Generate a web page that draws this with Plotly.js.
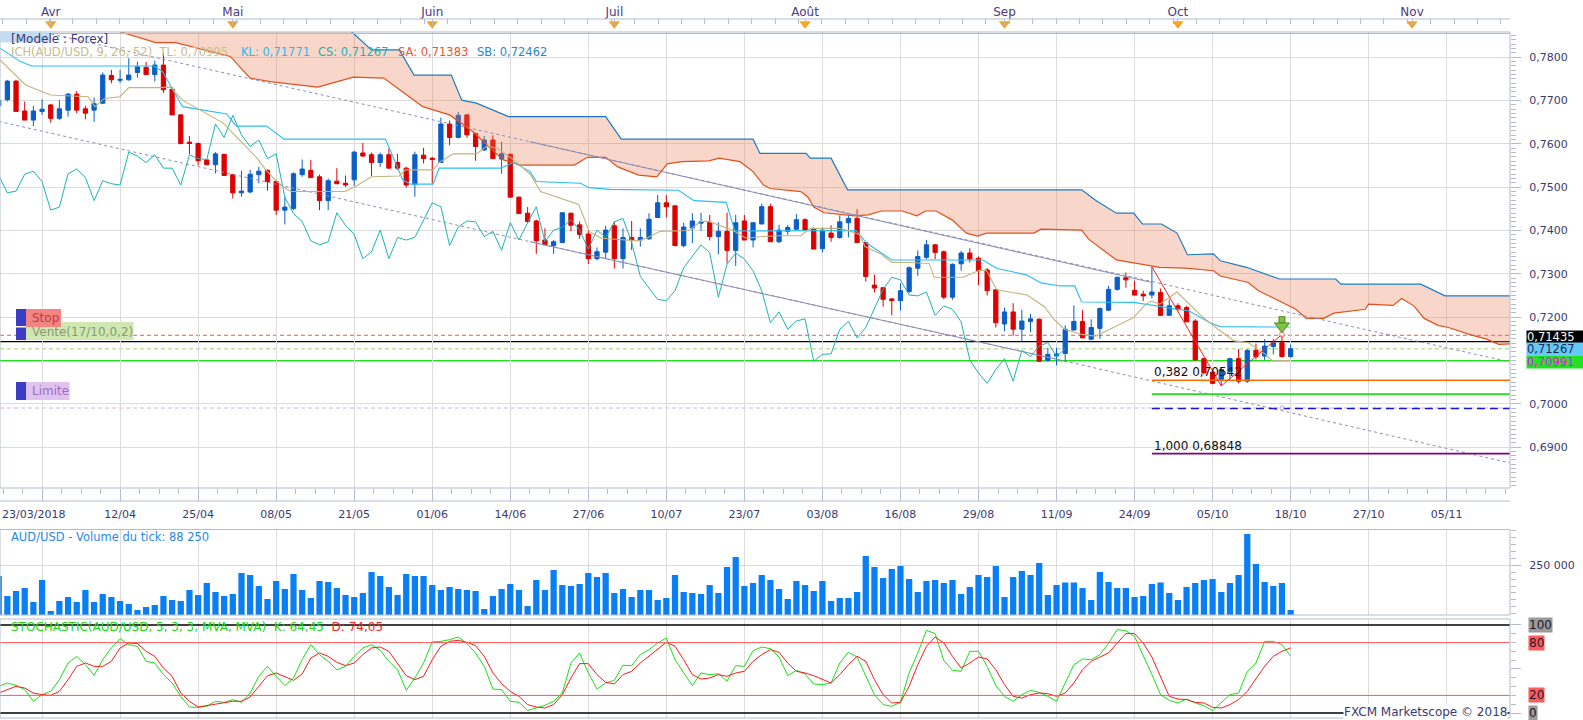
<!DOCTYPE html>
<html><head><meta charset="utf-8">
<script src="https://cdn.plot.ly/plotly-3.0.1.min.js"></script>
<style>html,body{margin:0;padding:0;background:#fff;overflow:hidden}#chart{width:1583px;height:720px}</style>
</head><body><div id="chart"></div>
<script>
// ---------------- DATA ----------------
const dates = ['23/03','26/03','27/03','28/03','29/03','30/03',
'02/04','03/04','04/04','05/04','06/04','09/04','10/04','11/04','12/04','13/04','16/04','17/04','18/04','19/04','20/04','23/04','24/04','25/04','26/04','27/04','30/04',
'01/05','02/05','03/05','04/05','07/05','08/05','09/05','10/05','11/05','14/05','15/05','16/05','17/05','18/05','21/05','22/05','23/05','24/05','25/05','28/05','29/05','30/05','31/05',
'01/06','04/06','05/06','06/06','07/06','08/06','11/06','12/06','13/06','14/06','15/06','18/06','19/06','20/06','21/06','22/06','25/06','26/06','27/06','28/06','29/06',
'02/07','03/07','04/07','05/07','06/07','09/07','10/07','11/07','12/07','13/07','16/07','17/07','18/07','19/07','20/07','23/07','24/07','25/07','26/07','27/07','30/07','31/07',
'01/08','02/08','03/08','06/08','07/08','08/08','09/08','10/08','13/08','14/08','15/08','16/08','17/08','20/08','21/08','22/08','23/08','24/08','27/08','28/08','29/08','30/08','31/08',
'03/09','04/09','05/09','06/09','07/09','10/09','11/09','12/09','13/09','14/09','17/09','18/09','19/09','20/09','21/09','24/09','25/09','26/09','27/09','28/09',
'01/10','02/10','03/10','04/10','05/10','08/10','09/10','10/10','11/10','12/10','15/10','16/10','17/10','18/10'];
const futureDays = ['19/10','20/10','21/10','22/10','23/10','24/10','25/10','26/10','27/10','28/10','29/10','30/10','31/10',
'01/11','02/11','03/11','04/11','05/11','06/11','07/11','08/11','09/11','10/11','11/11','12/11'];

const open = [0.7688,0.7702,0.7745,0.7676,0.7655,0.7675,0.7690,0.7659,0.7678,0.7715,
0.7681,0.7678,0.7694,0.7758,0.7747,0.7748,0.7765,0.7777,0.7760,0.7782,
0.7726,0.7667,0.7604,0.7601,0.7563,0.7552,0.7576,0.7529,0.7487,0.7489,
0.7529,0.7539,0.7513,0.7447,0.7451,0.7529,0.7539,0.7524,0.7469,0.7514,
0.7509,0.7517,0.7579,0.7575,0.7557,0.7575,0.7557,0.7544,0.7507,0.7574,
0.7567,0.7557,0.7646,0.7615,0.7667,0.7624,0.7586,0.7609,0.7565,0.7576,
0.7477,0.7440,0.7422,0.7378,0.7365,0.7372,0.7440,0.7413,0.7392,0.7335,
0.7350,0.7411,0.7335,0.7384,0.7378,0.7381,0.7430,0.7464,0.7457,0.7365,
0.7406,0.7417,0.7419,0.7386,0.7398,0.7354,0.7422,0.7378,0.7415,0.7455,
0.7374,0.7398,0.7403,0.7425,0.7403,0.7358,0.7394,0.7384,0.7418,0.7428,
0.7372,0.7274,0.7268,0.7242,0.7238,0.7259,0.7313,0.7338,0.7367,0.7351,
0.7246,0.7323,0.7348,0.7336,0.7309,0.7263,0.7184,0.7212,0.7172,0.7190,
0.7195,0.7100,0.7110,0.7116,0.7170,0.7190,0.7149,0.7174,0.7216,0.7264,
0.7291,0.7262,0.7253,0.7251,0.7257,0.7204,0.7226,0.7222,0.7191,0.7104,
0.7073,0.7056,0.7075,0.7104,0.7052,0.7123,0.7110,0.7132,0.7141,0.7109];
const high = [0.7706,0.7748,0.7748,0.7698,0.7688,0.7703,0.7692,0.7701,0.7717,0.7722,
0.7688,0.7707,0.7765,0.7771,0.7771,0.7798,0.7790,0.7789,0.7792,0.7809,
0.7731,0.7669,0.7618,0.7603,0.7564,0.7581,0.7577,0.7531,0.7538,0.7540,
0.7547,0.7541,0.7515,0.7477,0.7534,0.7564,0.7563,0.7529,0.7520,0.7544,
0.7527,0.7584,0.7602,0.7580,0.7580,0.7589,0.7577,0.7547,0.7582,0.7591,
0.7570,0.7661,0.7654,0.7674,0.7669,0.7626,0.7618,0.7620,0.7605,0.7578,
0.7478,0.7454,0.7425,0.7405,0.7378,0.7441,0.7441,0.7421,0.7400,0.7361,
0.7411,0.7421,0.7405,0.7422,0.7405,0.7440,0.7482,0.7482,0.7457,0.7418,
0.7440,0.7441,0.7436,0.7419,0.7441,0.7436,0.7436,0.7418,0.7462,0.7462,
0.7413,0.7413,0.7438,0.7428,0.7407,0.7407,0.7412,0.7435,0.7435,0.7449,
0.7372,0.7298,0.7268,0.7244,0.7278,0.7317,0.7354,0.7378,0.7368,0.7354,
0.7324,0.7353,0.7359,0.7340,0.7313,0.7264,0.7222,0.7232,0.7217,0.7207,
0.7197,0.7129,0.7129,0.7181,0.7227,0.7216,0.7195,0.7222,0.7272,0.7293,
0.7303,0.7284,0.7261,0.7316,0.7266,0.7241,0.7232,0.7226,0.7195,0.7106,
0.7075,0.7083,0.7106,0.7126,0.7126,0.7139,0.7149,0.7150,0.7158,0.7137];
const low = [0.7683,0.7698,0.7675,0.7655,0.7641,0.7667,0.7649,0.7655,0.7663,0.7671,
0.7657,0.7651,0.7692,0.7740,0.7741,0.7746,0.7753,0.7759,0.7744,0.7718,
0.7667,0.7599,0.7576,0.7551,0.7551,0.7532,0.7527,0.7474,0.7478,0.7486,
0.7509,0.7492,0.7436,0.7414,0.7447,0.7524,0.7522,0.7447,0.7447,0.7508,
0.7501,0.7503,0.7570,0.7526,0.7547,0.7544,0.7540,0.7499,0.7478,0.7555,
0.7509,0.7557,0.7597,0.7613,0.7614,0.7561,0.7584,0.7566,0.7531,0.7477,
0.7439,0.7417,0.7346,0.7367,0.7346,0.7372,0.7398,0.7381,0.7323,0.7331,
0.7334,0.7312,0.7312,0.7355,0.7363,0.7378,0.7430,0.7430,0.7365,0.7361,
0.7371,0.7399,0.7377,0.7345,0.7324,0.7318,0.7378,0.7361,0.7415,0.7374,
0.7371,0.7390,0.7401,0.7399,0.7357,0.7349,0.7374,0.7381,0.7384,0.7372,
0.7282,0.7257,0.7224,0.7204,0.7215,0.7255,0.7295,0.7334,0.7334,0.7241,
0.7240,0.7307,0.7326,0.7274,0.7250,0.7176,0.7167,0.7157,0.7143,0.7165,
0.7097,0.7097,0.7089,0.7096,0.7170,0.7152,0.7147,0.7150,0.7214,0.7261,
0.7268,0.7251,0.7237,0.7243,0.7204,0.7204,0.7214,0.7189,0.7101,0.7068,
0.7045,0.7041,0.7056,0.7047,0.7048,0.7102,0.7101,0.7114,0.7106,0.7106];
const close = [0.7700,0.7745,0.7675,0.7655,0.7676,0.7680,0.7659,0.7681,0.7715,0.7678,
0.7671,0.7693,0.7759,0.7748,0.7749,0.7759,0.7778,0.7760,0.7782,0.7725,
0.7667,0.7601,0.7601,0.7561,0.7552,0.7577,0.7527,0.7487,0.7491,0.7530,
0.7537,0.7513,0.7447,0.7454,0.7531,0.7542,0.7522,0.7469,0.7515,0.7508,
0.7505,0.7581,0.7572,0.7557,0.7575,0.7544,0.7544,0.7505,0.7575,0.7566,
0.7564,0.7646,0.7615,0.7666,0.7621,0.7594,0.7609,0.7566,0.7577,0.7477,
0.7439,0.7421,0.7376,0.7367,0.7374,0.7441,0.7412,0.7391,0.7335,0.7351,
0.7401,0.7335,0.7384,0.7378,0.7384,0.7426,0.7464,0.7455,0.7365,0.7408,
0.7422,0.7420,0.7386,0.7398,0.7354,0.7418,0.7378,0.7418,0.7455,0.7374,
0.7401,0.7407,0.7425,0.7401,0.7357,0.7401,0.7384,0.7420,0.7428,0.7372,
0.7294,0.7267,0.7241,0.7238,0.7261,0.7314,0.7340,0.7367,0.7349,0.7246,
0.7322,0.7348,0.7334,0.7307,0.7261,0.7187,0.7212,0.7172,0.7191,0.7196,
0.7098,0.7114,0.7115,0.7172,0.7190,0.7152,0.7176,0.7220,0.7264,0.7292,
0.7286,0.7251,0.7249,0.7258,0.7204,0.7226,0.7218,0.7189,0.7101,0.7071,
0.7047,0.7079,0.7104,0.7052,0.7123,0.7109,0.7133,0.7141,0.7109,0.7127];

// Ichimoku lines (vertex positions in bar units, values)
const tenkanX = [0.15,3.1,6.0,10.3,11.1,12.2,14.0,15.0,18.5,19.8,21.2,25.9,27.4,29.8,30.8,32.1,32.9,33.7,39.9,41.1,43.0,46.2,46.9,50.1,50.8,52.4,55.1,56.3,57.5,58.6,59.4,61.3,62.5,66.9,68.1,69.5,73.8,74.7,76.3,79.6,81.0,81.9,84.7,86.2,88.2,90.1,92.5,93.6,96.9,98.3,99.3,99.9,101.8,103.0,104.9,107.3,107.9,111.2,113.1,113.9,115.1,118.6,120.6,121.7,122.9,124.9,126.5,130.9,132.1,132.9,133.9,135.9,137.3,138.9,140.9,142.5,144.1,146.1,146.9,148.9];
const tenkanY = [0.7794,0.7736,0.7713,0.7709,0.7686,0.7705,0.7709,0.7730,0.7730,0.7731,0.7701,0.7648,0.7617,0.7567,0.7540,0.7513,0.7500,0.7490,0.7490,0.7501,0.7524,0.7526,0.7540,0.7540,0.7557,0.7577,0.7577,0.7595,0.7590,0.7574,0.7563,0.7530,0.7490,0.7460,0.7398,0.7382,0.7376,0.7382,0.7398,0.7400,0.7421,0.7421,0.7400,0.7382,0.7386,0.7388,0.7388,0.7405,0.7405,0.7398,0.7390,0.7363,0.7345,0.7326,0.7326,0.7324,0.7292,0.7292,0.7308,0.7308,0.7263,0.7251,0.7224,0.7195,0.7172,0.7160,0.7156,0.7199,0.7226,0.7237,0.7230,0.7258,0.7230,0.7199,0.7168,0.7145,0.7141,0.7114,0.7099,0.7100];
const kijunX = [0.15,2.5,3.8,17.9,18.9,21.2,26.3,27.4,30.9,32.9,44.6,46.6,47.5,50.1,50.8,57.9,59.4,61.3,62.0,67.1,68.1,70.6,78.4,80.2,83.9,84.9,98.9,100.1,103.0,113.5,115.1,118.6,120.2,122.4,124.1,124.9,130.9,137.3,139.7,140.9,148.9];
const kijunY = [0.7821,0.7790,0.7780,0.7780,0.7767,0.7686,0.7669,0.7641,0.7641,0.7611,0.7611,0.7517,0.7507,0.7507,0.7544,0.7544,0.7557,0.7536,0.7513,0.7509,0.7499,0.7495,0.7493,0.7469,0.7465,0.7399,0.7400,0.7371,0.7332,0.7332,0.7313,0.7297,0.7279,0.7272,0.7272,0.7235,0.7234,0.7214,0.7187,0.7178,0.7177];
const spanBX = [12,39.5,40.7,43.0,46.2,47.9,52.2,53.4,55.1,58.8,70.0,71.8,87.0,87.8,93.1,93.6,96.0,97.9,124.9,126.5,128.9,130.9,131.9,134.1,135.9,137.1,140.1,140.9,143.9,147.7,154.2,154.8,164.0,166.8,175];
const spanBY = [0.7950,0.7890,0.7859,0.7817,0.7817,0.7759,0.7759,0.7701,0.7694,0.7663,0.7663,0.7611,0.7611,0.7578,0.7578,0.7567,0.7567,0.7494,0.7494,0.7470,0.7440,0.7440,0.7415,0.7415,0.7394,0.7344,0.7346,0.7330,0.7315,0.7288,0.7288,0.7276,0.7276,0.7249,0.7249];
const spanAX = [12,14,18.1,20.4,26.7,29.0,31.3,36.8,40.9,44.4,46.8,48.9,52.0,54.7,56.7,58.2,60.2,66.4,67.9,70.0,71.4,73.8,75.9,77.1,78.8,81.9,83.1,85.5,87.0,88.2,89.0,92.5,93.3,94.0,95.2,98.7,100.3,101.8,104.2,105.9,106.9,108.1,110.0,111.6,112.9,113.9,119.4,120.2,124.9,125.7,128.9,132.9,133.9,136.9,140.1,140.9,144.1,145.3,147.7,149.6,150.8,152.8,154.0,156.0,157.6,158.0,160.8,161.8,163.2,164.4,166.0,167.2,169.6,171.6,173.0,175];
const spanAY = [0.7900,0.7859,0.7834,0.7834,0.7802,0.7752,0.7744,0.7731,0.7754,0.7752,0.7717,0.7686,0.7667,0.7628,0.7590,0.7563,0.7551,0.7551,0.7569,0.7569,0.7547,0.7528,0.7524,0.7554,0.7559,0.7561,0.7567,0.7559,0.7536,0.7505,0.7497,0.7490,0.7478,0.7454,0.7441,0.7434,0.7436,0.7445,0.7445,0.7434,0.7445,0.7445,0.7424,0.7394,0.7387,0.7394,0.7394,0.7403,0.7401,0.7380,0.7332,0.7319,0.7315,0.7313,0.7307,0.7295,0.7280,0.7261,0.7237,0.7218,0.7197,0.7197,0.7209,0.7214,0.7218,0.7230,0.7227,0.7243,0.7226,0.7197,0.7181,0.7176,0.7160,0.7149,0.7137,0.7139];
const chikouShift = 26;

// channel lines (read points) and their solid parts
const upperLineX = [0, 61.3, 122.4, 175], upperLineY = [0.7881, 0.7605, 0.7330, 0.7093];
const upperSolidX = [61.3, 133], upperSolidY = [0.7605, 0.7280];
const lowerLineX = [0, 61.3, 122.4, 175], lowerLineY = [0.7652, 0.7374, 0.7101, 0.6860];
const lowerSolidX = [61.3, 122.4], lowerSolidY = [0.7374, 0.7101];

// order levels
const stopLevel = 0.7158, askLevel = 0.71435, bidLevel = 0.71267, entryLevel = 0.70991, limitLevel = 0.6990;
// price axis labels shown (0,7100 is hidden under the order boxes)
const priceTicks = [0.69, 0.70, 0.72, 0.73, 0.74, 0.75, 0.76, 0.77, 0.78];
// fibonacci
const fibStart = 133;
const fibLevels = [0.70542, 0.7022, 0.6989, 0.68848];
const fibPointsX = [133, 141, 148], fibPointsY = [0.7316, 0.7041, 0.7160];
const signalX = [148], signalHead = [0.7179], signalStem = [0.7194];

const volume = [211400,139000,157100,168000,117300,196900,84700,120900,135400,117300,
160800,117300,146300,135400,120900,110100,88300,99200,106500,139000,
124600,120900,160800,142700,186100,153500,139000,146300,222300,215000,
175200,128200,193300,164400,218600,160800,131800,193300,189700,168000,
142700,135400,149900,225900,211400,171600,142700,218600,211400,211400,
178800,160800,171600,164400,160800,157100,92000,139000,164400,182500,
160800,102800,
196900,160800,233100,178800,175200,182500,222300,207800,222300,149900,
164400,135400,160800,160800,124600,131800,215000,153500,149900,146300,
178800,149900,244000,280200,175200,186100,215000,196900,164400,128200,
193300,178800,157100,193300,120900,131800,131800,153500,283800,244000,
204200,236700,247600,200500,153500,193300,196900,186100,196900,146300,
171600,215000,207800,247600,135400,207800,229500,215000,258400,142700,
178800,
187300,187300,168000,124600,225900,189700,168000,168000,135400,139000,
182500,187300,149900,124600,171600,186100,196900,200500,153500,186100,
215000,363400,254800,189700,175200,186100,88250];

const stochK = [30.3,34.1,31.4,26.5,13.3,20.8,24.6,37.9,56.8,64.4,54.9,42.8,60.6,73.9,84.5,77.7,75.8,58.7,56.8,43.6,
34.1,18.9,6.8,6.4,7.6,13.3,12.1,15.2,12.1,22.7,41.7,53.0,41.7,31.1,39.8,60.6,77.7,66.3,58.7,49.2,
53.0,64.4,73.9,77.7,71.2,58.7,49.2,25.8,39.8,56.8,80.7,81.4,83.3,86.4,78.8,68.2,53.0,27.3,26.5,13.3,12.1,3.0,
5.7,8.7,13.3,22.7,56.8,68.2,45.5,27.3,34.1,37.1,54.2,53.8,66.3,72.0,79.5,85.2,60.6,45.5,31.1,45.5,
43.6,44.7,36.4,53.8,53.0,70.8,75.0,73.1,63.6,42.4,48.5,44.3,33.0,32.2,34.1,56.8,68.9,63.6,41.7,20.8,
9.5,7.6,12.1,45.5,68.2,93.9,90.2,59.8,48.5,47.3,70.1,70.1,53.0,31.1,18.9,13.3,20.8,25.8,23.5,18.9,13.3,
34.5,54.9,61.4,60.6,66.3,79.5,94.7,93.6,87.1,66.3,43.6,20.8,14.4,11.4,15.9,11.4,8.3,2.7,11.4,20.8,22.7,47.3,56.8,81.4,81.4,77.7,64.45];
const stochD = [22.7,26.5,30.3,28.4,22.7,20.8,20.1,24.6,37.9,53.0,56.8,53.0,53.0,58.7,73.9,79.5,78.8,70.1,64.4,51.1,
41.7,22.7,13.3,6.8,8.3,10.6,12.1,13.3,13.3,18.2,30.3,42.4,45.5,41.7,37.1,44.3,62.5,68.2,64.4,57.6,
53.8,56.8,66.3,73.9,75.0,70.1,56.8,42.4,37.9,41.7,60.6,75.8,81.4,82.6,80.3,76.5,64.4,45.5,33.3,24.6,18.9,9.5,
6.8,5.7,9.5,20.8,39.8,56.1,56.1,43.6,34.8,33.0,43.6,47.3,56.8,64.4,72.0,80.3,75.8,60.6,43.6,38.6,
39.8,43.6,41.7,45.5,47.3,58.7,66.3,72.0,68.9,56.8,47.3,45.5,42.4,38.6,34.1,43.6,54.9,64.4,58.7,37.9,
20.8,11.4,12.1,30.3,54.9,75.8,86.4,79.5,64.4,51.1,56.8,63.6,61.4,49.2,32.2,18.9,17.0,20.8,22.7,22.0,18.9,
22.7,34.1,49.2,58.7,63.6,68.2,79.5,90.2,90.2,79.5,63.6,41.7,18.9,15.9,15.2,12.1,11.4,6.4,5.7,9.5,15.2,24.6,38.6,53.0,64.4,70.1,74.05];

const dateTicks = ['30/03','12/04','25/04','08/05','21/05','01/06','14/06','27/06','10/07','23/07','03/08','16/08','29/08','11/09','24/09','05/10','18/10','27/10','05/11'];
const monthDays = ['02/04','01/05','01/06','02/07','01/08','03/09','01/10','01/11'];
const monthNames = ['Avr','Mai','Juin','Juil','Août','Sep','Oct','Nov'];

// ---------------- BUILD ----------------
const W = 1583, H = 720;
const PX = v => v / W, PY = v => 1 - v / H;
const axisDays = dates.concat(futureDays);
const pos = d => axisDays.indexOf(d);
const xi = dates.map((d, i) => i);
const xEnd = PX(1510);
const mainDom = [PY(488), PY(32)], volDom = [PY(615), PY(529.5)], stoDom = [PY(718), PY(619)], topDom = [PY(31), PY(19)];
const xRange = [0.15, 174.3];
const FONT = 'DejaVu Sans, Verdana, sans-serif';
const AX = '#3a3a6e', BORDER = '#b3bccb', GRID = '#dcdcdc';

const traces = [];
const line = (x, y, color, width, dash, extra) => Object.assign({type:'scatter', mode:'lines', x, y, line:{color, width, dash: dash||'solid'}, hoverinfo:'skip', showlegend:false}, extra||{});

// cloud
traces.push(line(spanBX, spanBY, '#1a7cc4', 1.2));
traces.push(line(spanAX, spanAY, '#e4501c', 1.2, null, {fill:'tonexty', fillcolor:'rgba(232,128,88,0.32)'}));
// channel
traces.push(line(upperLineX, upperLineY, '#8c8cb8', 1, '3px,3px'));
traces.push(line(lowerLineX, lowerLineY, '#8c8cb8', 1, '3px,3px'));
traces.push(line(upperSolidX, upperSolidY, '#8c8cb8', 1));
traces.push(line(lowerSolidX, lowerSolidY, '#8c8cb8', 1));
// chikou, kijun, tenkan
traces.push(line(xi.slice(chikouShift).map(i => i - chikouShift), close.slice(chikouShift), '#1db4b4', 1));
traces.push(line(kijunX, kijunY, '#2bbdf2', 1.1));
traces.push(line(tenkanX, tenkanY, '#c2b47c', 1.1));
// fibonacci lines
const fibColors = ['#ff6a00', '#22dd22', '#1414e0', '#800080'];
const fibDash = ['solid', 'solid', '8px,5px', 'solid'];
fibLevels.forEach((v, k) => traces.push(line([fibStart, xRange[1] + 2], [v, v], fibColors[k], 1.6, fibDash[k])));
traces.push(line(fibPointsX, fibPointsY, '#ff2020', 1, null, {mode:'lines+markers', marker:{size:[0,0,5], color:'#fff', line:{color:'#ff4040', width:1}}}));
// candles
traces.push({type:'candlestick', x:xi, open, high, low, close, xaxis:'x', yaxis:'y',
  increasing:{line:{color:'#0a5ec6', width:1}, fillcolor:'#0a5ec6'},
  decreasing:{line:{color:'#dd0000', width:1}, fillcolor:'#dd0000'},
  whiskerwidth:0, hoverinfo:'skip', showlegend:false});
// sell signal arrow
traces.push({type:'scatter', mode:'markers', x:signalX, y:signalStem, marker:{symbol:'square', size:6, color:'#7fc244', line:{color:'#4f8a1e', width:1}}, hoverinfo:'skip', showlegend:false});
traces.push({type:'scatter', mode:'markers', x:signalX, y:signalHead, marker:{symbol:'triangle-down', size:13, color:'#7fc244', line:{color:'#4f8a1e', width:1}}, hoverinfo:'skip', showlegend:false});
traces.push({type:'scatter', mode:'markers', x:signalX, y:[limitLevel], marker:{symbol:'circle', size:4, color:'#fff', line:{color:'#c8a0e8', width:1}}, hoverinfo:'skip', showlegend:false});
// volume
traces.push({type:'bar', x:xi, y:volume, xaxis:'x', yaxis:'y2', width:0.72, marker:{color:'#0a7ff5', line:{width:0}}, hoverinfo:'skip', showlegend:false});
// stochastic
traces.push(line(xi, stochK, '#18e018', 1, null, {yaxis:'y3'}));
traces.push(line(xi, stochD, '#ff1a1a', 1, null, {yaxis:'y3'}));
// month markers (top strip)
traces.push({type:'scatter', mode:'markers', x:monthDays.map(pos), y:monthDays.map(() => 0.6), xaxis:'x2', yaxis:'y4',
  marker:{symbol:'triangle-down', size:10, color:'#f7a21b', line:{width:0}}, cliponaxis:false, hoverinfo:'skip', showlegend:false});

// shapes
const shapes = [];
const rect = (x0, x1, y0, y1, fill, lc) => ({type:'rect', xref:'paper', yref:'paper', x0, x1, y0, y1, fillcolor:fill||'rgba(0,0,0,0)', line:{color:lc||'rgba(0,0,0,0)', width:1}, layer:'above'});
const hline = (y, yref, color, width, dash, layer) => ({type:'line', xref:'paper', yref, x0:0, x1:xEnd, y0:y, y1:y, line:{color, width, dash:dash||'solid'}, layer:layer||'below'});
shapes.push(hline(stopLevel, 'y', '#f05555', 1, '4px,3px'));
shapes.push(hline(askLevel, 'y', '#000000', 1.2));
shapes.push(hline(bidLevel, 'y', '#9fcf70', 1, '4px,3px'));
shapes.push(hline(entryLevel, 'y', '#22dd22', 1.6));
shapes.push(hline(limitLevel, 'y', '#d4acf2', 1, '4px,3px'));
shapes.push(hline(100, 'y3', '#000', 1.3, null, 'above'));
shapes.push(hline(0, 'y3', '#000', 1.3, null, 'above'));
shapes.push(hline(80, 'y3', '#ff5555', 1, null, 'above'));
shapes.push(hline(20, 'y3', '#ff5555', 1, null, 'above'));
// panel borders
shapes.push(rect(0, xEnd, mainDom[0], mainDom[1], null, BORDER));
shapes.push(rect(0, xEnd, PY(33.5), PY(33.5), null, BORDER));
shapes.push(rect(0, xEnd, volDom[0], volDom[1], null, BORDER));
shapes.push(rect(0, xEnd, stoDom[0], stoDom[1], null, BORDER));
shapes.push({type:'line', xref:'paper', yref:'paper', x0:0, x1:xEnd, y0:PY(501), y1:PY(501), line:{color:BORDER, width:1}});
shapes.push({type:'line', xref:'paper', yref:'paper', x0:0, x1:xEnd, y0:PY(19), y1:PY(19), line:{color:BORDER, width:1}});
// left tags
shapes.push(rect(PX(0), PX(50.7), PY(42.5), PY(32), '#c4dcf0'));
shapes.push(rect(PX(26), PX(133.5), PY(340), PY(322), '#cfe8b2'));
shapes.push(rect(PX(26), PX(61), PY(327), PY(309), '#f28484'));
shapes.push(rect(PX(16), PX(26), PY(326), PY(309), '#3c3cc4'));
shapes.push(rect(PX(16), PX(26), PY(340), PY(327.5), '#3c3cc4'));
shapes.push(rect(PX(26), PX(69.6), PY(400), PY(382), '#ddc3ee'));
shapes.push(rect(PX(16), PX(26), PY(400), PY(382), '#3c3cc4'));

// annotations
const ann = [];
const txt = (x, y, text, color, size, extra) => Object.assign({xref:'paper', yref:'paper', x, y, text, showarrow:false, xanchor:'left', yanchor:'middle', font:{family:FONT, size:size||12, color}}, extra||{});
ann.push(txt(PX(8.5), PY(38.5), '[Modele : Forex]', '#3a3a7a', 12));
ann.push(txt(PX(8.5), PY(52.3), 'ICH(AUD/USD, 9, 26, 52)  TL: 0,70995', '#c8bc8a', 11.5));
ann.push(txt(PX(239), PY(52.3), 'KL: 0,71771', '#2fb8ef', 11.5));
ann.push(txt(PX(316), PY(52.3), 'CS: 0,71267', '#1fb2b2', 11.5));
ann.push(txt(PX(395.5), PY(52.3), 'SA: 0,71383', '#e5582a', 11.5));
ann.push(txt(PX(475), PY(52.3), 'SB: 0,72462', '#2a86c8', 11.5));
ann.push(txt(PX(30), PY(318), 'Stop', '#c23c3c', 12));
ann.push(txt(PX(30), PY(331.5), 'Vente(17/10,0,2)', '#8a9a74', 12));
ann.push(txt(PX(30), PY(391), 'Limite', '#a26cc4', 12));
ann.push(txt(PX(0), PY(514), '23/03/2018', AX, 11));
ann.push(txt(PX(8.5), PY(536.7), 'AUD/USD - Volume du tick: 88 250', '#2a88e8', 11.5));
ann.push(txt(PX(8.5), PY(626.7), '<span style="color:#18d818">STOCHASTIC(AUD/USD, 5, 3, 3, MVA, MVA)  K: 64,45</span>  <span style="color:#ff2020">D: 74,05</span>', '#18d818', 12));
ann.push(txt(PX(1508), PY(712), 'FXCM Marketscope © 2018', AX, 12, {xanchor:'right', bgcolor:'#ffffff', borderpad:0}));
ann.push({xref:'x', yref:'y', x:fibStart, y:fibLevels[0], yshift:8, text:'0,382 0,70542', showarrow:false, xanchor:'left', yanchor:'middle', font:{family:FONT, size:12, color:'#111'}});
ann.push({xref:'x', yref:'y', x:fibStart, y:fibLevels[3], yshift:8, text:'1,000 0,68848', showarrow:false, xanchor:'left', yanchor:'middle', font:{family:FONT, size:12, color:'#111'}});
// right price boxes
const pbox = (v, text, bg, fc, ys) => ({xref:'paper', yref:'y', x:PX(1526), y:v, yshift:ys||0, text, showarrow:false, xanchor:'left', yanchor:'middle', align:'left', width:57, height:12, bgcolor:bg, borderpad:0, font:{family:FONT, size:11.5, color:fc}});
ann.push(pbox(askLevel, '0,71435', '#000000', '#ffffff', 5));
ann.push(pbox(bidLevel, '0,71267', '#66c8f4', '#1a2a5a', 0));
ann.push(pbox(entryLevel, '0,70991', '#22e022', '#ff00ff', -1));
const sbox = (v, text, bg) => ({xref:'paper', yref:'y3', x:PX(1528), y:v, text, showarrow:false, xanchor:'left', yanchor:'middle', bgcolor:bg, borderpad:0, font:{family:FONT, size:12, color:'#1c1c2c'}});
ann.push(sbox(100, '100', '#9a9a9a'));
ann.push(sbox(80, '80', '#ff5a5a'));
ann.push(sbox(20, '20', '#ff5a5a'));
ann.push(sbox(0, '0', '#9a9a9a'));

const layout = {
  width: W, height: H, margin:{l:0, r:0, t:0, b:0}, paper_bgcolor:'#fff', plot_bgcolor:'#fff',
  separators:', ', showlegend:false, hovermode:false, boxgap:0.3,
  font:{family:FONT, size:11, color:AX},
  xaxis:{domain:[0, xEnd], anchor:'y', range:xRange, rangeslider:{visible:false}, showgrid:true, gridcolor:GRID, zeroline:false,
    tickvals:dateTicks.map(pos), ticktext:dateTicks.map((d, k) => k === 0 ? '' : d), ticks:'outside', ticklen:12, tickcolor:BORDER,
    tickfont:{size:11, color:AX}, ticklabelstandoff:4,
    minor:{tick0:5, dtick:2.25, ticks:'outside', ticklen:5, tickcolor:BORDER, showgrid:false}},
  xaxis2:{domain:[0, xEnd], anchor:'y4', matches:'x', range:xRange, side:'top', showgrid:false, zeroline:false,
    tickvals:monthDays.map(pos), ticktext:monthNames, ticks:'inside', ticklen:6, tickcolor:BORDER, tickfont:{size:12, color:'#4a3a7e'},
    minor:{tick0:0.45, dtick:2.7, ticks:'inside', ticklen:5, tickcolor:BORDER, showgrid:false}},
  yaxis:{domain:mainDom, anchor:'x', range:[0.680531, 0.785843], side:'right', tickvals:priceTicks, tickformat:'.4f', showgrid:true, gridcolor:GRID, zeroline:false,
    ticks:'outside', ticklen:10, tickcolor:BORDER, tickfont:{size:11, color:AX}, ticklabelstandoff:6,
    minor:{tick0:0.68, dtick:0.001, ticks:'outside', ticklen:5, tickcolor:BORDER, showgrid:false}},
  yaxis2:{domain:volDom, anchor:'x', range:[70135, 379500], side:'right', tickvals:[250000], ticktext:['250 000'], showgrid:true, gridcolor:GRID, zeroline:false,
    ticks:'outside', ticklen:10, tickcolor:BORDER, tickfont:{size:11, color:AX}, ticklabelstandoff:6,
    minor:{tick0:0, dtick:25000, ticks:'outside', ticklen:5, tickcolor:BORDER, showgrid:false}},
  yaxis3:{domain:stoDom, anchor:'x', range:[-5.68, 106.8], side:'right', tickvals:[0, 50, 100], showticklabels:false, showgrid:false, zeroline:false,
    ticks:'outside', ticklen:10, tickcolor:BORDER, minor:{dtick:10, ticks:'outside', ticklen:5, tickcolor:BORDER}},
  yaxis4:{domain:topDom, anchor:'x2', range:[0, 1], visible:false, fixedrange:true},
  shapes, annotations:ann
};
Plotly.newPlot('chart', traces, layout, {staticPlot:true, displayModeBar:false});
</script></body></html>
